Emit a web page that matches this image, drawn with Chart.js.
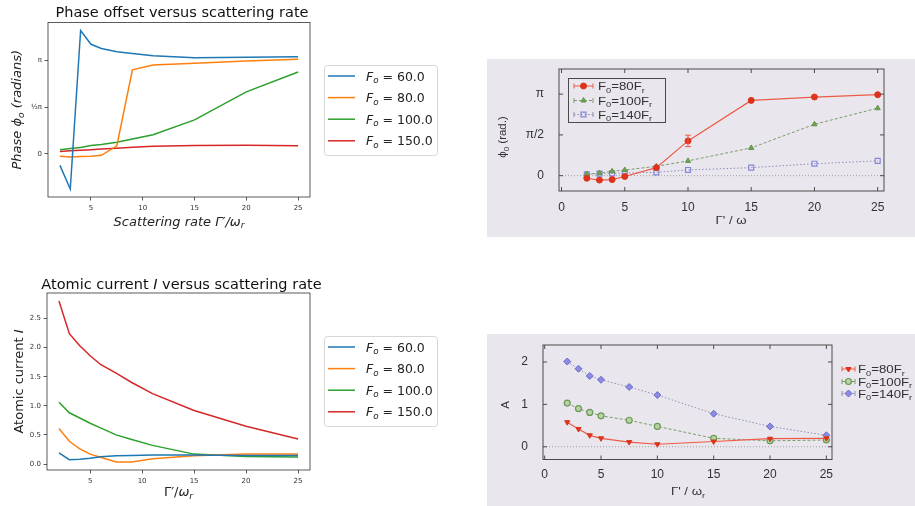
<!DOCTYPE html>
<html><head><meta charset="utf-8">
<script src="https://cdn.jsdelivr.net/npm/chart.js"></script>
<style>
html,body{margin:0;padding:0;background:#fff}
body{position:relative;width:915px;height:506px;overflow:hidden}
.scan{position:absolute;background:#e9e7ed}
canvas{position:absolute;left:0;top:0}
</style></head><body>
<div class="scan" style="left:487px;top:59px;width:428px;height:178px"></div>
<div class="scan" style="left:487px;top:334px;width:428px;height:172px"></div>
<canvas id="c1" width="915" height="506"></canvas>
<canvas id="c2" width="915" height="506"></canvas>
<canvas id="c3" width="915" height="506"></canvas>
<canvas id="c4" width="915" height="506"></canvas>
<script>
// ---------- simulation (matplotlib) data ----------
const simX = [2, 3, 4, 5, 6, 7.5, 9, 11, 15, 20, 25];
const simLabels = ['60.0', '80.0', '100.0', '150.0'];
const simXTicks = [5, 10, 15, 20, 25];
// phase offset, radians
const phaseF60  = [-0.39, -1.18, 4.14, 3.68, 3.54, 3.43, 3.37, 3.29, 3.23, 3.24, 3.26];
const phaseF80  = [-0.08, -0.11, -0.09, -0.08, -0.05, 0.27, 2.82, 2.98, 3.04, 3.12, 3.18];
const phaseF100 = [0.14, 0.18, 0.21, 0.28, 0.31, 0.39, 0.50, 0.64, 1.14, 2.08, 2.75];
const phaseF150 = [0.08, 0.10, 0.12, 0.14, 0.16, 0.19, 0.22, 0.25, 0.28, 0.29, 0.27];
const phaseTickValues = [0, Math.PI / 2, Math.PI];
const phaseTickLabels = ['0', '½π', 'π'];
// atomic current
const curF60  = [0.19, 0.075, 0.08, 0.10, 0.125, 0.14, 0.145, 0.155, 0.155, 0.145, 0.145];
const curF80  = [0.61, 0.39, 0.26, 0.17, 0.115, 0.035, 0.035, 0.09, 0.14, 0.17, 0.17];
const curF100 = [1.06, 0.88, 0.79, 0.70, 0.62, 0.50, 0.42, 0.32, 0.17, 0.13, 0.12];
const curF150 = [2.80, 2.24, 2.03, 1.86, 1.71, 1.56, 1.40, 1.21, 0.92, 0.65, 0.43];
const curTicks = [0, 0.5, 1, 1.5, 2, 2.5];

// ---------- experiment (scanned gnuplot) data ----------
const expX = [2, 3, 4, 5, 7.5, 10, 15, 20, 25];
const expLabels = ['80', '100', '140'];
const expXTicks = [0, 5, 10, 15, 20, 25];
const expPhase80  = [-0.10, -0.17, -0.15, -0.03, 0.31, 1.34, 2.90, 3.03, 3.12];
const expPhase80Err = [0, 0, 0, 0, 0, 0.22, 0, 0, 0];
const expPhase100 = [0.06, 0.10, 0.17, 0.22, 0.36, 0.57, 1.07, 1.98, 2.60];
const expPhase140 = [0.05, 0.08, 0.09, 0.10, 0.13, 0.22, 0.31, 0.46, 0.57];
const expPhaseTickValues = [0, Math.PI / 2, Math.PI];
const expPhaseTickLabels = ['0', 'π/2', 'π'];
const expAmp80  = [0.58, 0.42, 0.27, 0.20, 0.11, 0.06, 0.125, 0.19, 0.20];
const expAmp100 = [1.03, 0.90, 0.81, 0.73, 0.625, 0.48, 0.20, 0.14, 0.16];
const expAmp140 = [2.01, 1.84, 1.67, 1.58, 1.41, 1.22, 0.78, 0.48, 0.27];
const expAmpTicks = [0, 1, 2];

// ---------- helpers ----------
const MPL = 'DejaVu Sans';
const GP = 'Liberation Sans';
const GPC = '#323232';
const simColors = ['#1f77b4', '#ff7f0e', '#2ca02c', '#d62728'];

function pts(xs, ys) { return xs.map((x, i) => ({x: x, y: ys[i]})); }

function drawRich(ctx, segs, x, y, size, family, color, align, rot, sx) {
  ctx.save();
  ctx.translate(x, y);
  if (rot) ctx.rotate(rot);
  if (sx) ctx.scale(sx, 1);
  ctx.fillStyle = color;
  ctx.textBaseline = 'alphabetic';
  ctx.textAlign = 'left';
  const parts = segs.map(([t, f]) => {
    const sub = f.includes('s');
    const sz = sub ? size * 0.7 : size;
    const font = (f.includes('i') ? 'italic ' : '') + sz + 'px "' + family + '"';
    ctx.font = font;
    return {t, font, w: ctx.measureText(t).width, dy: sub ? size * 0.22 : 0};
  });
  const W = parts.reduce((a, p) => a + p.w, 0);
  let cx = align === 'center' ? -W / 2 : (align === 'right' ? -W : 0);
  for (const p of parts) { ctx.font = p.font; ctx.fillText(p.t, cx, p.dy); cx += p.w; }
  ctx.restore();
}

const AXW = 40;   // fixed y-axis box width
const AXH = 30;   // fixed x-axis box height

function simScaleX() {
  return {
    type: 'linear', min: 0.85, max: 26.15,
    afterFit: s => { s.height = AXH; },
    afterBuildTicks: s => { s.ticks = simXTicks.map(v => ({value: v})); },
    ticks: {autoSkip: false, maxRotation: 0, font: {family: MPL, size: 7}, color: '#333', padding: 3,
            callback: v => String(v)},
    grid: {display: true, drawOnChartArea: false, drawTicks: true, tickLength: 3.5, color: '#333', lineWidth: 0.8},
    border: {display: false}
  };
}
function simScaleY(min, max, vals, fmt) {
  return {
    type: 'linear', min: min, max: max,
    afterFit: s => { s.width = AXW; },
    afterBuildTicks: s => { s.ticks = vals.map(v => ({value: v})); },
    ticks: {autoSkip: false, font: {family: MPL, size: 7}, color: '#333', padding: 2.5,
            callback: (v, i) => fmt(v, i)},
    grid: {display: true, drawOnChartArea: false, drawTicks: true, tickLength: 3.5, color: '#333', lineWidth: 0.8},
    border: {display: false}
  };
}

function mplDecor(title, xlabelSegs, ylabelSegs, titleY, xlabY, ylabX, legTop) {
  return {
    id: 'mplDecor',
    afterDraw(chart) {
      const ctx = chart.ctx, a = chart.chartArea;
      ctx.save();
      ctx.strokeStyle = '#333'; ctx.lineWidth = 0.8;
      ctx.strokeRect(a.left, a.top, a.right - a.left, a.bottom - a.top);
      ctx.restore();
      const cx = (a.left + a.right) / 2;
      drawRich(ctx, title, cx + 3, titleY, 14.5, MPL, '#111', 'center');
      drawRich(ctx, xlabelSegs, cx, xlabY, 13, MPL, '#222', 'center');
      drawRich(ctx, ylabelSegs, ylabX, (a.top + a.bottom) / 2, 13, MPL, '#222', 'center', -Math.PI / 2);
      // legend
      ctx.save();
      const lx = 324, lw = 113, lh = 90;
      ctx.fillStyle = 'rgba(255,255,255,0.85)';
      ctx.strokeStyle = '#d6d6d6'; ctx.lineWidth = 1;
      ctx.beginPath();
      if (ctx.roundRect) ctx.roundRect(lx + 0.5, legTop + 0.5, lw, lh, 3); else ctx.rect(lx + 0.5, legTop + 0.5, lw, lh);
      ctx.fill(); ctx.stroke();
      chart.data.datasets.forEach((ds, i) => {
        const y = legTop + 11 + i * 21.6;
        ctx.strokeStyle = ds.borderColor; ctx.lineWidth = 1.5;
        ctx.beginPath(); ctx.moveTo(328, y); ctx.lineTo(355, y); ctx.stroke();
        drawRich(ctx, [['F', 'i'], ['o', 'is'], [' = ' + ds.label, 'n']], 366, y + 4.5, 12.5, MPL, '#222', 'left');
      });
      ctx.restore();
    }
  };
}

function gpScaleX(min, max, ticks, padding) {
  return {
    type: 'linear', min: min, max: max,
    afterFit: s => { s.height = AXH; },
    afterBuildTicks: s => { s.ticks = ticks.map(v => ({value: v})); },
    ticks: {autoSkip: false, maxRotation: 0, font: {family: GP, size: 12}, color: GPC, padding: padding,
            callback: v => String(v)},
    grid: {display: false}, border: {display: false}
  };
}
function gpScaleY(min, max, vals, fmt) {
  return {
    type: 'linear', min: min, max: max,
    afterFit: s => { s.width = AXW; },
    afterBuildTicks: s => { s.ticks = vals.map(v => ({value: v})); },
    ticks: {autoSkip: false, font: {family: GP, size: 12}, color: GPC, padding: 7,
            callback: (v, i) => fmt(v, i)},
    grid: {display: false}, border: {display: false}
  };
}

function drawMarker(ctx, ds, x, y) {
  ctx.save();
  ctx.fillStyle = ds.pointBackgroundColor;
  ctx.strokeStyle = ds.pointBorderColor;
  ctx.lineWidth = ds.pointBorderWidth || 1;
  if (Chart.helpers && Chart.helpers.drawPoint) {
    Chart.helpers.drawPoint(ctx, {pointStyle: ds.pointStyle, radius: ds.pointRadius, rotation: ds.pointRotation || 0, borderWidth: ds.pointBorderWidth || 1}, x, y);
  } else {
    ctx.beginPath(); ctx.arc(x, y, ds.pointRadius, 0, Math.PI * 2); ctx.fill(); ctx.stroke();
  }
  ctx.restore();
}

function gpDecor(xticks, yticks, errs, legend, xlab, ylab) {
  return {
    id: 'gpDecor',
    beforeDatasetsDraw(chart) {
      const ctx = chart.ctx, a = chart.chartArea, ys = chart.scales.y;
      ctx.save();
      ctx.strokeStyle = '#8a8a8a'; ctx.lineWidth = 0.8; ctx.setLineDash([1, 2]);
      const y0 = ys.getPixelForValue(0);
      ctx.beginPath(); ctx.moveTo(a.left, y0); ctx.lineTo(a.right, y0); ctx.stroke();
      ctx.restore();
    },
    afterDatasetsDraw(chart) {
      const ctx = chart.ctx, xs = chart.scales.x, ys = chart.scales.y;
      if (errs) {
        const ds = chart.data.datasets[0];
        ctx.save(); ctx.strokeStyle = ds.borderColor; ctx.lineWidth = 1;
        errs.forEach((e, i) => {
          if (!e) return;
          const p = ds.data[i];
          const px = xs.getPixelForValue(p.x), y1 = ys.getPixelForValue(p.y - e), y2 = ys.getPixelForValue(p.y + e);
          ctx.beginPath();
          ctx.moveTo(px, y1); ctx.lineTo(px, y2);
          ctx.moveTo(px - 3, y1); ctx.lineTo(px + 3, y1);
          ctx.moveTo(px - 3, y2); ctx.lineTo(px + 3, y2);
          ctx.stroke();
        });
        ctx.restore();
      }
    },
    afterDraw(chart) {
      const ctx = chart.ctx, a = chart.chartArea, xs = chart.scales.x, ys = chart.scales.y;
      ctx.save();
      ctx.strokeStyle = '#4a4a4a'; ctx.lineWidth = 1;
      ctx.strokeRect(a.left, a.top, a.right - a.left, a.bottom - a.top);
      ctx.beginPath();
      xticks.forEach(v => { const px = xs.getPixelForValue(v); ctx.moveTo(px, a.bottom); ctx.lineTo(px, a.bottom - 4); ctx.moveTo(px, a.top); ctx.lineTo(px, a.top + 4); });
      yticks.forEach(v => { const py = ys.getPixelForValue(v); ctx.moveTo(a.left, py); ctx.lineTo(a.left + 4, py); ctx.moveTo(a.right, py); ctx.lineTo(a.right - 4, py); });
      ctx.stroke();
      ctx.restore();
      // axis labels
      drawRich(ctx, xlab.segs, xlab.x, xlab.y, 11.5, GP, GPC, 'center', 0, 1.15);
      drawRich(ctx, ylab.segs, ylab.x, ylab.y, 11.5, GP, GPC, 'center', -Math.PI / 2);
      // legend
      ctx.save();
      if (legend.box) {
        ctx.strokeStyle = '#4a4a4a'; ctx.lineWidth = 1;
        ctx.strokeRect(legend.box[0] + 0.5, legend.box[1] + 0.5, legend.box[2], legend.box[3]);
      }
      chart.data.datasets.forEach((ds, i) => {
        const y = legend.ys[i], x0 = legend.x0, x1 = legend.x1;
        ctx.strokeStyle = ds.borderColor; ctx.lineWidth = 1;
        ctx.setLineDash(ds.borderDash || []);
        ctx.beginPath(); ctx.moveTo(x0, y); ctx.lineTo(x1, y); ctx.stroke();
        ctx.setLineDash([]);
        ctx.beginPath(); ctx.moveTo(x0, y - 2.5); ctx.lineTo(x0, y + 2.5); ctx.moveTo(x1, y - 2.5); ctx.lineTo(x1, y + 2.5); ctx.stroke();
        drawMarker(ctx, ds, (x0 + x1) / 2, y);
        drawRich(ctx, [['F', 'n'], ['0', 's'], ['=' + ds.label + 'F', 'n'], ['r', 's']], legend.tx, y + 4, 11.5, GP, GPC, 'left', 0, 1.15);
      });
      ctx.restore();
    }
  };
}

const baseOpts = {responsive: false, animation: false, devicePixelRatio: 1,
  plugins: {legend: {display: false}, title: {display: false}, tooltip: {enabled: false}},
  elements: {line: {tension: 0}}};

function pad(L, R, T, B) {
  return {left: L - AXW, right: 915 - R, top: T, bottom: 506 - B - AXH};
}

// ---------- chart 1: phase (simulation) ----------
const simPhaseSets = [phaseF60, phaseF80, phaseF100, phaseF150];
new Chart(document.getElementById('c1'), {
  type: 'line',
  data: {datasets: simPhaseSets.map((s, i) => ({label: simLabels[i], data: pts(simX, s), borderColor: simColors[i], borderWidth: 1.5, pointRadius: 0, fill: false}))},
  options: Object.assign({}, baseOpts, {
    layout: {padding: pad(48, 310, 22.5, 197)},
    scales: {x: simScaleX(), y: simScaleY(-1.451, 4.411, phaseTickValues, (v, i) => phaseTickLabels[i])}
  }),
  plugins: [mplDecor([['Phase offset versus scattering rate', 'n']],
    [['Scattering rate Γ′/ω', 'i'], ['r', 'is']],
    [['Phase ϕ', 'i'], ['o', 'is'], [' (radians)', 'i']], 17.3, 225.5, 21, 65)]
});

// ---------- chart 2: current (simulation) ----------
const simCurSets = [curF60, curF80, curF100, curF150];
new Chart(document.getElementById('c2'), {
  type: 'line',
  data: {datasets: simCurSets.map((s, i) => ({label: simLabels[i], data: pts(simX, s), borderColor: simColors[i], borderWidth: 1.5, pointRadius: 0, fill: false}))},
  options: Object.assign({}, baseOpts, {
    layout: {padding: pad(47, 310, 293, 470)},
    scales: {x: simScaleX(), y: simScaleY(-0.103, 2.938, curTicks, v => v.toFixed(1))}
  }),
  plugins: [mplDecor([['Atomic current ', 'n'], ['I', 'i'], [' versus scattering rate', 'n']],
    [['Γ′/', 'n'], ['ω', 'i'], ['r', 'is']],
    [['Atomic current ', 'n'], ['I', 'i']], 288.5, 496, 22.5, 336)]
});

// ---------- chart 3: phase (experiment) ----------
new Chart(document.getElementById('c3'), {
  type: 'line',
  data: {datasets: [
    {label: expLabels[0], data: pts(expX, expPhase80), borderColor: '#ee5a45', borderWidth: 1.2,
     pointStyle: 'circle', pointRadius: 3, pointBackgroundColor: '#e2301c', pointBorderColor: '#d8351f', pointBorderWidth: 1},
    {label: expLabels[1], data: pts(expX, expPhase100), borderColor: '#7c9a6c', borderWidth: 1, borderDash: [3, 2],
     pointStyle: 'triangle', pointRadius: 3, pointBackgroundColor: '#6fa255', pointBorderColor: '#5f9348', pointBorderWidth: 1},
    {label: expLabels[2], data: pts(expX, expPhase140), borderColor: '#8e8eb4', borderWidth: 1, borderDash: [1.5, 2],
     pointStyle: 'rect', pointRadius: 3.5, pointBackgroundColor: 'rgba(0,0,0,0)', pointBorderColor: '#8486dc', pointBorderWidth: 1.2}
  ]},
  options: Object.assign({}, baseOpts, {
    layout: {padding: pad(559, 884, 69, 191)},
    scales: {x: gpScaleX(-0.2, 25.5, expXTicks, 1), y: gpScaleY(-0.59, 4.11, expPhaseTickValues, (v, i) => expPhaseTickLabels[i])}
  }),
  plugins: [gpDecor(expXTicks, expPhaseTickValues, expPhase80Err,
    {box: [568, 78, 97, 44], ys: [86, 100.5, 114.5], x0: 574, x1: 593, tx: 598},
    {segs: [['Γ\' / ω', 'n']], x: 731, y: 224},
    {segs: [['ϕ', 'n'], ['0', 's'], [' (rad.)', 'n']], x: 506, y: 137})]
});

// ---------- chart 4: amplitude (experiment) ----------
new Chart(document.getElementById('c4'), {
  type: 'line',
  data: {datasets: [
    {label: expLabels[0], data: pts(expX, expAmp80), borderColor: '#ee5a45', borderWidth: 1.2,
     pointStyle: 'triangle', pointRotation: 180, pointRadius: 3, pointBackgroundColor: '#e2301c', pointBorderColor: '#d8351f', pointBorderWidth: 1},
    {label: expLabels[1], data: pts(expX, expAmp100), borderColor: '#7c9a6c', borderWidth: 1, borderDash: [3, 2],
     pointStyle: 'circle', pointRadius: 3, pointBackgroundColor: '#b8d2a6', pointBorderColor: '#6a9a55', pointBorderWidth: 1.2},
    {label: expLabels[2], data: pts(expX, expAmp140), borderColor: '#8e8eb4', borderWidth: 1, borderDash: [1.5, 2],
     pointStyle: 'rectRot', pointRadius: 3.5, pointBackgroundColor: '#8c8ae2', pointBorderColor: '#6c6ac8', pointBorderWidth: 1}
  ]},
  options: Object.assign({}, baseOpts, {
    layout: {padding: pad(543, 832, 345, 459.5)},
    scales: {x: gpScaleX(-0.15, 25.5, expXTicks, 0), y: gpScaleY(-0.3, 2.4, expAmpTicks, v => String(v))}
  }),
  plugins: [gpDecor(expXTicks, expAmpTicks, null,
    {box: null, ys: [369, 381.5, 393.5], x0: 842, x1: 855, tx: 858},
    {segs: [['Γ\' / ω', 'n'], ['r', 's']], x: 688, y: 495},
    {segs: [['A', 'n']], x: 509, y: 405})]
});
</script>
</body></html>
